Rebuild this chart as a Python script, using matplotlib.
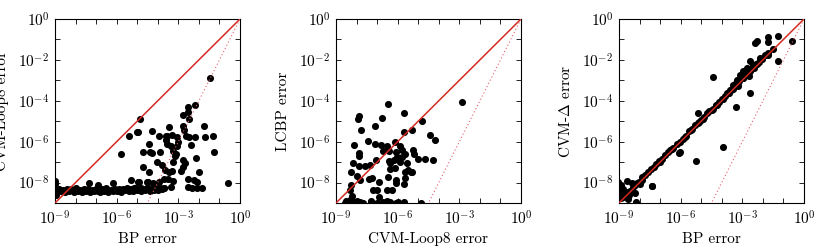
import numpy as np
import matplotlib
matplotlib.use('Agg')
import matplotlib.pyplot as plt
from matplotlib.ticker import FixedLocator, FuncFormatter, NullLocator

plt.rcParams['font.family'] = 'serif'
plt.rcParams['font.serif'] = ['cmr10', 'DejaVu Serif']
plt.rcParams['mathtext.fontset'] = 'cm'
plt.rcParams['axes.unicode_minus'] = False
plt.rcParams['axes.formatter.use_mathtext'] = True

# ---------------- data (log10 of errors) ----------------
# Panel 1: BP error vs CVM-Loop8 error
p1_bp_log10 = [
    -9.02, -9.0, -9.03, -8.98, -9.0, -9.02, -8.97, -8.92, -8.9,
    -8.8, -8.7, -8.6, -8.5, -8.4, -8.3, -8.2, -8.1, -8.0, -7.9, -7.8, -7.7, -7.6, -7.5, -7.4,
    -7.34, -7.3, -7.2, -7.1, -7.0, -6.89, -6.9, -6.8, -6.7, -6.6, -6.5, -6.4, -6.3, -6.2,
    -6.16, -6.1, -6.0, -5.9, -5.8, -5.7, -5.6, -5.5, -5.4, -5.3, -5.3, -5.2, -5.1, -5.0,
    -4.94, -4.9, -4.8, -4.7, -4.6, -4.53, -4.5, -4.4, -4.3, -4.21, -4.2, -4.1, -4.0, -3.9,
    -3.8, -3.7,
    -4.92, -4.48, -3.94, -3.70, -3.50, -3.24, -2.53, -2.24, -2.07,
    -5.16, -4.84, -4.51, -4.19, -3.7, -3.37, -2.53, -2.32, -2.07, -1.83,
    -0.56,
    -1.47, -4.85, -2.17, -2.54, -2.53, -2.79, -2.48, -2.77, -2.72, -1.76, -3.46, -4.27,
    -4.98, -5.41, -3.94, -3.60, -2.64, -2.48, -2.19, -1.72, -1.29, -2.38, -1.26, -4.43,
    -4.72, -4.38, -4.27, -3.89, -3.11, -2.14, -2.76, -4.02, -4.71, -3.78, -2.67, -2.77,
    -4.43, -3.65, -3.46, -3.29, -2.89, -1.99, -5.8, -5.02,
    -3.54, -3.29, -3.05, -3.0, -3.08, -3.34, -3.57, -3.62,
    -3.24, -3.18, -3.24,
]
p1_loop8_log10 = [
    -7.9, -8.05, -8.2, -8.3, -8.42, -8.5, -8.6, -8.35, -8.48,
    -8.3, -8.42, -8.35, -8.45, -8.3, -8.4, -8.33, -8.45, -8.28, -8.4, -8.35, -8.45, -8.3, -8.4, -8.32,
    -8.04, -8.45, -8.35, -8.42, -8.3, -8.12, -8.4, -8.45, -8.33, -8.4, -8.28, -8.45, -8.35, -8.4,
    -8.04, -8.3, -8.42, -8.33, -8.45, -8.3, -8.38, -8.25, -8.42, -7.87, -8.32, -8.4, -8.28, -8.38,
    -7.95, -8.3, -8.42, -8.3, -8.38, -7.95, -8.28, -8.4, -8.3, -8.04, -8.38, -8.28, -8.35, -8.28,
    -8.3, -8.25,
    -7.97, -7.95, -7.97, -7.85, -7.85, -7.9, -7.85, -7.88, -7.97,
    -8.28, -8.28, -8.28, -8.3, -8.28, -8.24, -8.24, -8.28, -8.28, -8.28,
    -8.04,
    -2.88, -4.87, -4.20, -4.32, -4.56, -4.72, -4.89, -5.21, -5.41, -5.25, -5.30, -5.46,
    -5.54, -5.72, -5.70, -5.70, -5.70, -5.78, -5.78, -5.78, -5.74, -6.16, -6.49, -6.11,
    -6.49, -6.52, -6.57, -6.52, -6.62, -6.81, -6.89, -6.98, -7.25, -7.12, -7.06, -7.25,
    -7.50, -7.38, -7.46, -7.45, -7.42, -7.46, -6.61, -5.52,
    -5.74, -5.67, -5.78, -6.0, -6.19, -6.22, -6.11, -5.9,
    -6.44, -6.68, -6.98,
]

# Panel 2: CVM-Loop8 error vs LCBP error
p2_loop8_log10 = [
    -2.88, -6.48, -5.70, -7.89, -7.94, -6.77, -4.83, -7.08, -7.80, -5.29, -5.71, -4.44,
    -4.18, -6.14, -7.44, -7.11, -6.80, -6.51, -8.14, -5.89, -5.78, -6.43, -6.71, -6.06,
    -5.65, -5.24, -5.21, -7.89, -7.86, -6.02, -5.78, -5.0, -4.69, -4.28, -8.19, -7.89,
    -7.60, -7.36, -7.05, -6.43, -6.35, -6.19, -5.91, -5.57, -6.14, -6.38, -5.49, -5.62,
    -5.37, -5.29, -8.25, -7.98, -7.81, -7.41, -7.24, -6.89, -6.46, -6.10, -6.10, -5.65,
    -5.70, -8.25, -7.21, -7.0, -6.51, -6.27, -8.30, -6.92, -8.22,
    -8.55, -8.4, -8.25, -8.1, -7.95, -7.85, -7.7, -7.3, -7.0, -6.7, -6.45, -6.35, -6.1,
    -5.7, -4.88, -8.3, -7.98, -7.3, -6.5, -8.5, -6.0,
]
p2_lcbp_log10 = [
    -4.08, -4.16, -4.60, -4.75, -4.88, -4.84, -5.0, -5.25, -5.41, -5.41, -5.53, -5.66,
    -5.92, -6.03, -5.95, -6.11, -6.18, -6.19, -6.14, -6.19, -6.40, -6.44, -6.44, -6.52,
    -6.60, -6.40, -6.60, -6.56, -6.68, -6.76, -6.76, -6.84, -6.87, -6.89, -7.04, -7.17,
    -7.21, -7.12, -6.92, -6.95, -7.05, -6.92, -7.0, -7.05, -7.30, -7.36, -7.38, -7.49,
    -7.47, -7.49, -7.49, -7.70, -7.86, -7.81, -7.77, -7.98, -7.73, -7.86, -8.0, -7.77,
    -8.09, -8.14, -8.38, -8.35, -8.38, -8.38, -8.38, -8.71, -8.68,
    -8.98, -8.97, -8.99, -8.96, -8.98, -8.97, -8.99, -8.96, -8.98, -8.97, -8.99, -8.96, -8.98,
    -8.97, -8.98, -8.85, -8.88, -8.9, -8.88, -8.92, -8.95,
]

# Panel 3: BP error vs CVM-Delta error
p3_bp_log10 = [
    -9.03, -9.03, -9.03, -9.03, -9.0, -8.97, -8.92, -8.62, -8.38, -8.35, -8.58, -8.22,
    -8.19, -8.14, -7.97, -7.89, -7.40, -8.8, -8.75, -8.5,
    -8.9, -8.8, -8.7, -8.55, -8.45, -8.3, -8.2, -8.05, -7.9, -7.75, -7.6, -7.45, -7.3,
    -7.2, -7.05, -6.9, -6.75, -6.6, -6.5, -6.35, -6.2, -6.05, -5.9, -5.75, -5.6, -5.45,
    -5.3, -5.15, -5.0, -4.85, -4.7, -4.6, -4.45, -4.3, -4.15, -4.0, -3.85, -3.7, -3.55,
    -3.4, -3.3, -3.15, -3.0, -2.9, -2.75, -2.6, -2.5, -2.35, -2.2, -2.05, -1.9, -1.75,
    -7.0, -6.4, -5.8, -5.5, -5.1, -4.9, -4.5, -4.25, -3.95, -3.65, -3.45, -3.2, -2.95,
    -2.7, -2.45, -2.3,
    -4.41, -3.32, -3.93, -5.26, -6.04, -7.39, -5.15, -6.06,
    -2.38, -2.27, -1.76, -1.76, -1.27, -0.56, -1.52, -1.73, -1.27, -2.14, -2.62, -2.46,
    -2.79, -2.98, -3.11, -2.62, -2.70, -2.95, -3.27, -3.44, -3.19, -3.60, -3.76, -2.62,
]
p3_delta_log10 = [
    -7.95, -8.2, -8.44, -8.69, -8.55, -8.35, -8.1, -7.9, -8.04, -8.36, -8.80, -8.53,
    -8.93, -8.04, -8.07, -7.87, -8.15, -8.3, -8.5, -8.6,
    -8.75, -8.7, -8.55, -8.45, -8.4, -8.2, -8.1, -7.95, -7.75, -7.65, -7.5, -7.35, -7.25,
    -7.1, -6.95, -6.85, -6.65, -6.5, -6.4, -6.3, -6.1, -6.0, -5.85, -5.7, -5.5, -5.4,
    -5.2, -5.1, -4.95, -4.8, -4.6, -4.5, -4.4, -4.2, -4.05, -3.9, -3.75, -3.6, -3.45,
    -3.3, -3.15, -3.05, -2.85, -2.7, -2.6, -2.45, -2.35, -2.2, -2.1, -1.95, -1.75, -1.65,
    -7.0, -6.35, -5.78, -5.45, -5.05, -4.88, -4.45, -4.2, -3.9, -3.6, -3.4, -3.12, -2.88,
    -2.6, -2.38, -2.2,
    -2.84, -4.28, -6.24, -6.94, -6.51, -8.15, -4.60, -6.53,
    -1.17, -1.09, -0.89, -1.12, -0.85, -1.09, -1.47, -1.74, -2.07, -1.91, -2.07, -2.23,
    -2.40, -2.56, -2.73, -2.56, -2.81, -2.89, -2.97, -3.22, -3.30, -3.46, -3.62, -3.62,
]

panels = [
    (p1_bp_log10, p1_loop8_log10, "BP error", "CVM-Loop8 error"),
    (p2_loop8_log10, p2_lcbp_log10, "CVM-Loop8 error", "LCBP error"),
    (p3_bp_log10, p3_delta_log10, "BP error", r"CVM-$\Delta$ error"),
]

W, H = 814, 248
fig = plt.figure(figsize=(W / 100, H / 100), dpi=100)
lefts = [55, 336, 619]
ax_w, ax_h = 185, 184
bottom_px = 203

red = '#d42a22'
decades = list(range(-9, 1))
FS = 11

def make_fmt(step):
    def f(v, pos):
        e = int(round(np.log10(v)))
        if e % step == 0:
            return r'$10^{%d}$' % e
        return ''
    return f

for lp, (xs, ys, xl, yl) in zip(lefts, panels):
    ax = fig.add_axes([lp / W, (H - bottom_px) / H, ax_w / W, ax_h / H])
    x = 10.0 ** np.array(xs)
    y = 10.0 ** np.array(ys)
    ax.scatter(x, y, s=26, c='black', linewidths=0, zorder=2, clip_on=True)
    lx = np.logspace(-9, 0, 50)
    ax.plot(lx, lx, color=red, lw=1.1, zorder=3)
    ax.plot(lx, lx ** 2, color='#e8606a', lw=0.8, ls=(0, (1, 2.2)), zorder=3)
    ax.set_xscale('log')
    ax.set_yscale('log')
    ax.set_xlim(1e-9, 1e0)
    ax.set_ylim(1e-9, 1e0)
    ticks = [10.0 ** d for d in decades]
    ax.xaxis.set_major_locator(FixedLocator(ticks))
    ax.yaxis.set_major_locator(FixedLocator(ticks))
    ax.xaxis.set_minor_locator(NullLocator())
    ax.yaxis.set_minor_locator(NullLocator())
    ax.xaxis.set_major_formatter(FuncFormatter(make_fmt(3)))
    ax.yaxis.set_major_formatter(FuncFormatter(make_fmt(2)))
    ax.tick_params(which='major', direction='in', top=True, right=True,
                   length=3.5, width=0.6, labelsize=FS, color='black')
    ax.tick_params(axis='x', pad=5)
    ax.tick_params(axis='y', pad=4)
    for s in ax.spines.values():
        s.set_linewidth(0.8)
    ax.set_xlabel(xl, fontsize=FS)
    ax.set_ylabel(yl, fontsize=FS)
    ax.xaxis.set_label_coords(0.5, -0.16)
    ax.yaxis.set_label_coords(-0.25, 0.5)

fig.savefig('out.png', dpi=100)
